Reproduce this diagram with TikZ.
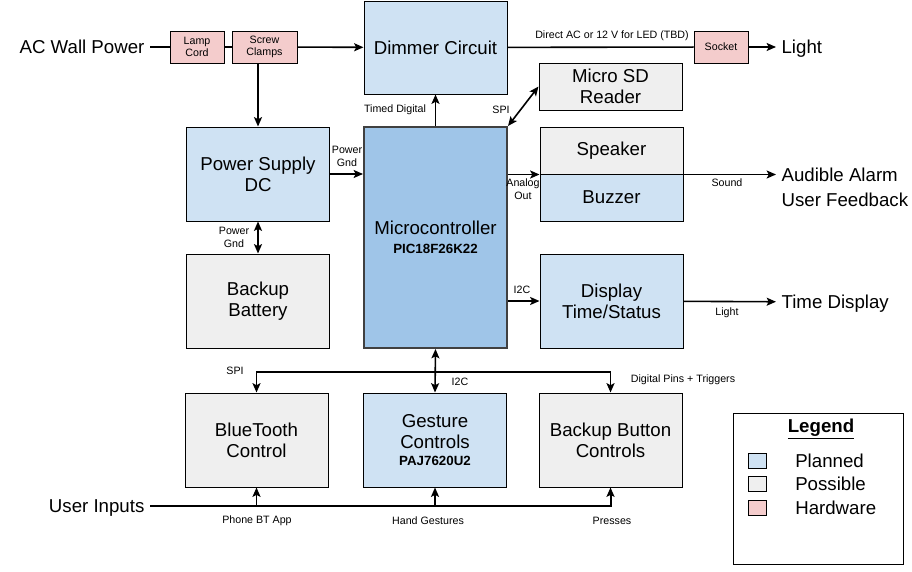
\documentclass[tikz,border=0pt]{standalone}
\usepackage{fontspec}
\setmainfont{Liberation Sans}
\usetikzlibrary{arrows.meta}

\definecolor{planeado}{HTML}{CFE2F3}
\definecolor{posible}{HTML}{EFEFEF}
\definecolor{hardware}{HTML}{F4CCCC}
\definecolor{micro}{HTML}{9FC5E8}

\tikzset{
	bloque/.style={draw=black, line width=0.75pt, minimum width=107.25pt, minimum height=70.5pt,
		inner sep=0pt, align=center, font=\fontsize{14}{16}\selectfont},
	bplan/.style={bloque, fill=planeado},
	bpos/.style={bloque, fill=posible},
	bhw/.style={draw=black, line width=0.75pt, fill=hardware, minimum width=40.5pt, minimum height=24pt,
		inner sep=0pt, align=center, font=\fontsize{8}{9.5}\selectfont},
	etiqueta/.style={inner sep=0pt, align=center, font=\fontsize{8}{9.5}\selectfont},
	externo/.style={inner sep=4pt, text height=10pt, text depth=0pt, font=\fontsize{14}{16}\selectfont},
	linea/.style={line width=1.2pt},
	flecha/.style={line width=1.2pt, -{Stealth[length=7pt, width=6pt, inset=1.5pt]}},
	doble/.style={line width=1.2pt, {Stealth[length=7pt, width=6pt, inset=1.5pt]}-{Stealth[length=7pt, width=6pt, inset=1.5pt]}},
}

\begin{document}
\begin{tikzpicture}[x=0.75pt, y=-0.75pt]
		\useasboundingbox (0,0) rectangle (912,571);

		% Bloques principales ---------------------------------------------------
		\node[bplan, minimum height=69.75pt] (dimmer) at (435.5,47.5) {Dimmer Circuit};
		\node[bplan] (ps) at (258,174) {Power Supply\\DC};
		\node[bpos] (batt) at (258,301) {Backup\\Battery};
		\node[bloque, fill=micro, draw=black!75, line width=1.5pt, minimum height=165.75pt] (mcu) at (435.5,237.5)
			{Microcontroller\\[-2pt]{\fontsize{10}{12}\selectfont\bfseries PIC18F26K22}};
		\node[bpos, minimum height=35.25pt] (sd) at (610.5,86.5) {Micro SD\\Reader};
		\node[bpos, minimum height=35.25pt] (spk) at (611.5,150.5) {Speaker};
		\node[bplan, minimum height=35.25pt] (buz) at (611.5,197.5) {Buzzer};
		\node[bplan] (disp) at (611.5,301) {Display\\Time/Status};
		\node[bpos] (bt) at (256.5,440) {BlueTooth\\Control};
		\node[bplan] (gesture) at (435,440)
			{Gesture\\Controls\\[-3pt]{\fontsize{10}{12}\selectfont\bfseries PAJ7620U2}};
		\node[bpos] (button) at (610.5,440) {Backup Button\\Controls};

		% Hardware ---------------------------------------------------------------
		\node[bhw] (lamp) at (197,47) {Lamp\\Cord};
		\node[bhw, minimum width=48.75pt] (clamps) at (264.5,47) {Screw\\Clamps};
		\node[bhw] (socket) at (721,47) {Socket};

		% Entradas y salidas -----------------------------------------------------
		\node[externo, anchor=east] (acwall) at (150,47) {AC Wall Power};
		\node[externo, anchor=west] (light) at (776,47) {Light};
		\node[externo, anchor=west] (alarm) at (776,175) {Audible Alarm};
		\node[externo, anchor=west] (feedback) at (776,200) {User Feedback};
		\node[externo, anchor=west] (timedisp) at (776,302) {Time Display};
		\node[externo, anchor=east] (userin) at (150,506) {User Inputs};

		% Conexiones -------------------------------------------------------------
		\draw[linea] (acwall) -- (lamp);
		\draw[linea] (lamp) -- (clamps);
		\draw[flecha] (clamps) -- (dimmer);
		\draw[flecha] (ps.north |- clamps.south) -- (ps.north);
		\draw[linea] (dimmer) -- (socket);
		\draw[flecha] (socket) -- (light);
		\draw[flecha] (mcu.north) -- (dimmer.south);
		\draw[doble] (mcu.north east) -- (sd.west);
		\draw[flecha] (ps.east) -- (ps.east -| mcu.west);
		\draw[doble] (ps.south) -- (batt.north);
		\draw[flecha] (mcu.east |- spk.south) -- (spk.south west);
		\draw[flecha] (spk.south east) -- (alarm.west |- spk.south east);
		\draw[flecha] (mcu.east |- disp) -- (disp.west);
		\draw[flecha] (disp) -- (timedisp);

		% bus de perifericos
		\coordinate (bus) at (435.5,372);
		\draw[doble] (mcu.south) -- (gesture.north);
		\draw[flecha] (bus) -| (bt.north);
		\draw[flecha] (bus) -| (button.north);

		% entradas del usuario
		\draw[flecha, line width=1.5pt] (userin.east) -| (button.south);
		\draw[flecha] (bt.south |- userin.east) -- (bt.south);
		\draw[flecha] (gesture.south |- userin.east) -- (gesture.south);

		% Etiquetas de las conexiones ----------------------------------------------
		\node[etiqueta] (lblac) at (612,36) {Direct AC or 12 V for LED (TBD)};
		\node[etiqueta] (lbltimed) at (395,110) {Timed Digital};
		\node[etiqueta] (lblsdspi) at (501,110) {SPI};
		\node[etiqueta] (lblpsgnd) at (347,156.5) {Power\\Gnd};
		\node[etiqueta] (lblbatgnd) at (234,237.5) {Power\\Gnd};
		\node[etiqueta] (lblanalog) at (523,189.5) {Analog\\Out};
		\node[etiqueta] (lblsound) at (727,183) {Sound};
		\node[etiqueta] (lbldispi2c) at (522,290) {I2C};
		\node[etiqueta] (lbllight) at (727,313) {Light};
		\node[etiqueta] (lblbtspi) at (235,371) {SPI};
		\node[etiqueta] (lblgesti2c) at (460,382) {I2C};
		\node[etiqueta] (lbldigital) at (683,380) {Digital Pins + Triggers};
		\node[etiqueta] (lblphone) at (257,521) {Phone BT App};
		\node[etiqueta] (lblhand) at (428,521) {Hand Gestures};
		\node[etiqueta] (lblpress) at (612,521) {Presses};

		% Leyenda ----------------------------------------------------------------
		\node[draw=black, line width=0.75pt, minimum width=127.5pt, minimum height=113.25pt] (legend) at (818,488.5) {};
		\node[externo, inner sep=0pt, font=\fontsize{14}{16}\selectfont\bfseries] (legtitle) at (821,426) {\underline{Legend}};
		\node[draw=black, line width=0.75pt, fill=planeado, minimum width=13.5pt, minimum height=11.25pt, inner sep=0pt] (swplan) at (757,460.5) {};
		\node[draw=black, line width=0.75pt, fill=posible, minimum width=13.5pt, minimum height=11.25pt, inner sep=0pt] (swpos) at (757,484) {};
		\node[draw=black, line width=0.75pt, fill=hardware, minimum width=13.5pt, minimum height=11.25pt, inner sep=0pt] (swhw) at (757,508) {};
		\node[externo, inner sep=0pt, anchor=west] (legplan) at (795,460.5) {Planned};
		\node[externo, inner sep=0pt, anchor=west] (legpos) at (795,484) {Possible};
		\node[externo, inner sep=0pt, anchor=west] (leghw) at (795,508) {Hardware};
	\end{tikzpicture}
\end{document}
